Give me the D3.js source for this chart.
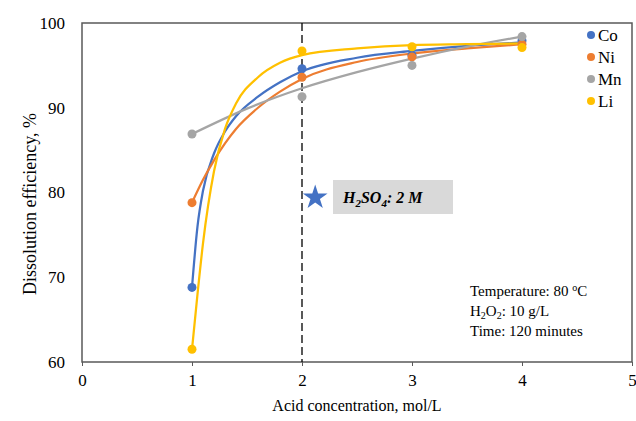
<!DOCTYPE html>
<html><head><meta charset="utf-8">
<script src="https://cdn.jsdelivr.net/npm/d3@7"></script>
<style>body{margin:0;background:#fff}svg{display:block}svg text{font-family:"Liberation Serif","Times New Roman",serif !important;fill:#000}</style>
</head><body><svg id="c" width="636" height="421"></svg>
<script>
const concentrations = [1, 2, 3, 4];
const seriesNames = ["Co", "Ni", "Mn", "Li"];
const coValues = [68.8, 94.6, 96.2, 97.9];
const niValues = [78.8, 93.6, 96.0, 97.5];
const mnValues = [86.9, 91.3, 95.0, 98.4];
const liValues = [61.5, 96.7, 97.2, 97.1];
// fitted trend curves: [concentration, efficiency]
const coTrend = [[1,68.8],[1.05,76],[1.1,80.2],[1.2,84.6],[1.3,87.2],[1.4,89],[1.6,91.3],[1.8,93],[2,94.3],[2.5,95.9],[3,96.7],[3.5,97.3],[4,97.7]];
const niTrend = [[1,78.8],[1.1,81.5],[1.2,83.8],[1.3,85.8],[1.4,87.5],[1.6,90],[1.8,91.9],[2,93.4],[2.5,95.4],[3,96.4],[3.5,97.0],[4,97.5]];
const mnTrend = [[1,86.9],[1.5,89.9],[2,92.3],[2.5,94.2],[3,95.8],[3.5,97.2],[4,98.4]];
const liTrend = [[1,61.5],[1.05,68],[1.1,74],[1.2,82.5],[1.3,87.5],[1.4,90.5],[1.6,93.6],[1.8,95.3],[2,96.2],[2.5,97],[3,97.4],[3.5,97.5],[4,97.6]];
const xTicks = [0, 1, 2, 3, 4, 5];
const yTicks = [60, 70, 80, 90, 100];
const colors = ["#4472C4", "#ED7D31", "#A5A5A5", "#FFC000"];
const starPoint = [2.12, 79.4];
const infoLines = ["Temperature: 80 \u00B0C", "H2O2: 10 g/L", "Time: 120 minutes"];

const SERIF = "Liberation Serif, Times New Roman, serif";
const svg = d3.select("#c");
const L = 82, R = 632, T = 23, B = 362;
const x = d3.scaleLinear().domain([0, 5]).range([L, R]);
const y = d3.scaleLinear().domain([60, 100]).range([B, T]);
const values = [coValues, niValues, mnValues, liValues];
const trends = [coTrend, niTrend, mnTrend, liTrend];

// frame
svg.append("rect").attr("x", L).attr("y", T).attr("width", R - L).attr("height", B - T)
  .attr("fill", "none").attr("stroke", "#595959").attr("stroke-width", 1.5);

// x axis
const xa = svg.append("g").attr("transform", `translate(0,${B})`)
  .call(d3.axisBottom(x).tickValues(xTicks).tickSize(4).tickSizeOuter(0).tickPadding(8).tickFormat(d3.format("d")));
xa.attr("font-family", SERIF).attr("font-size", 16);
xa.select(".domain").remove();
xa.selectAll("line").attr("stroke", "#595959");
xa.selectAll("text").style("font-family", SERIF).style("font-size", "17px").attr("fill", "#000");
const ya = svg.append("g").attr("transform", `translate(${L},0)`)
  .call(d3.axisLeft(y).tickValues(yTicks).tickSize(0).tickPadding(17));
ya.attr("font-family", SERIF).attr("font-size", 16);
ya.select(".domain").remove();
ya.selectAll("text").style("font-family", SERIF).style("font-size", "17px").attr("fill", "#000");

svg.append("text").attr("x", (L + R) / 2).attr("y", 411).attr("text-anchor", "middle")
  .style("font-family", SERIF).style("font-size", "16px").text("Acid concentration, mol/L");
svg.append("text").attr("transform", `translate(36,204) rotate(-90)`).attr("text-anchor", "middle")
  .style("font-family", SERIF).style("font-size", "18px").text("Dissolution efficiency, %");

// dashed line
svg.append("line").attr("x1", x(2)).attr("x2", x(2)).attr("y1", y(100)).attr("y2", y(60))
  .attr("stroke", "#000").attr("stroke-width", 1.3).attr("stroke-dasharray", "8,4");

// trend lines
const line = d3.line().x(d => x(d[0])).y(d => y(d[1])).curve(d3.curveMonotoneX);
trends.forEach((t, i) => {
  svg.append("path").attr("d", line(t)).attr("fill", "none").attr("stroke", colors[i]).attr("stroke-width", 2.25);
});
values.forEach((v, i) => {
  svg.selectAll(null).data(v).enter().append("circle")
    .attr("cx", (d, j) => x(concentrations[j])).attr("cy", d => y(d)).attr("r", 4.5).attr("fill", colors[i]);
});

// star + box
svg.append("path").attr("d", d3.symbol(d3.symbolStar, 190)())
  .attr("transform", `translate(${x(starPoint[0])},${y(starPoint[1])})`).attr("fill", "#4472C4");
svg.append("rect").attr("x", 333).attr("y", 180).attr("width", 120).attr("height", 34).attr("fill", "#D9D9D9");
const h = svg.append("text").attr("x", 343).attr("y", 203).style("font-family", SERIF).style("font-size", "16px")
  .attr("font-weight", "bold").attr("font-style", "italic");
h.append("tspan").text("H");
h.append("tspan").style("font-size", "11px").attr("dy", 4).text("2");
h.append("tspan").attr("dy", -4).text("SO");
h.append("tspan").style("font-size", "11px").attr("dy", 4).text("4");
h.append("tspan").attr("dy", -4).text(": 2 M");

// info text
const info = svg.append("g");
const t1 = info.append("text").attr("x", 470).attr("y", 296).style("font-family", SERIF).style("font-size", "15px");
t1.append("tspan").text("Temperature: 80 ");
t1.append("tspan").style("font-size", "10px").attr("dy", -5).text("o");
t1.append("tspan").attr("dy", 5).text("C");
const t2 = info.append("text").attr("x", 470).attr("y", 316).style("font-family", SERIF).style("font-size", "15px");
t2.append("tspan").text("H");
t2.append("tspan").style("font-size", "10px").attr("dy", 3).text("2");
t2.append("tspan").attr("dy", -3).text("O");
t2.append("tspan").style("font-size", "10px").attr("dy", 3).text("2");
t2.append("tspan").attr("dy", -3).text(": 10 g/L");
info.append("text").attr("x", 470).attr("y", 336).style("font-family", SERIF).style("font-size", "15px").text(infoLines[2]);

// legend
const lg = svg.append("g");
seriesNames.forEach((n, i) => {
  const yy = 35 + i * 22;
  lg.append("circle").attr("cx", 591).attr("cy", yy).attr("r", 4).attr("fill", colors[i]);
  lg.append("text").attr("x", 598).attr("y", yy + 6).style("font-family", SERIF).style("font-size", "17px").text(n);
});
</script></body></html>
